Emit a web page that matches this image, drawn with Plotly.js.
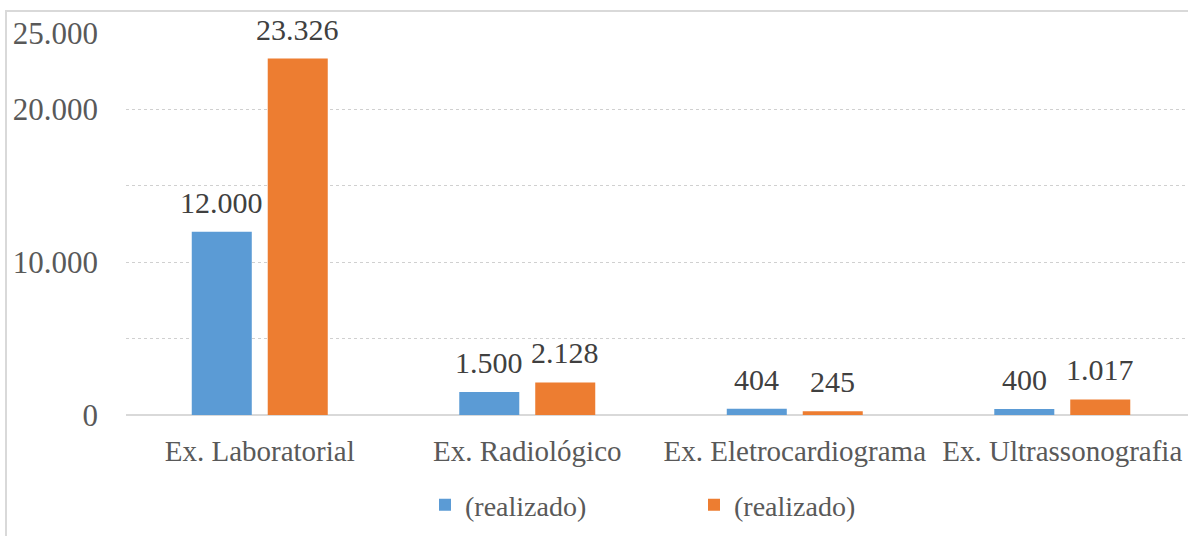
<!DOCTYPE html>
<html>
<head>
<meta charset="utf-8">
<script src="https://cdn.plot.ly/plotly-3.0.1.min.js"></script>
<style>html,body{margin:0;padding:0;background:#fff;}#chart{width:1188px;height:536px;}</style>
</head>
<body>
<div id="chart"></div>
<script>
var categories = ["Ex. Laboratorial", "Ex. Radiológico", "Ex. Eletrocardiograma", "Ex. Ultrassonografia"];
var seriesNames = ["(realizado)", "(realizado)"];
var seriesA = [12000, 1500, 404, 400];
var seriesB = [23326, 2128, 245, 1017];
var yTickVals = [0, 5000, 10000, 15000, 20000, 25000];
var yTickText = ["0", "", "10.000", "", "20.000", "25.000"];

var serif = "Liberation Serif, Times New Roman, serif";
var colors = ["#5B9BD5", "#ED7D31"];

function makeTrace(vals, name, color) {
  return {
    type: "bar",
    x: categories,
    y: vals,
    name: name,
    marker: {color: color},
    hoverinfo: "none"
  };
}

var data = [
  makeTrace(seriesA, seriesNames[0], colors[0]),
  makeTrace(seriesB, seriesNames[1], colors[1])
];

function fmt(v) {
  return String(v).replace(/\B(?=(\d{3})+(?!\d))/g, ".");
}

var annotations = [];
[[seriesA, -38], [seriesB, 38]].forEach(function (pair) {
  pair[0].forEach(function (v, i) {
    annotations.push({
      x: categories[i], y: v, xref: "x", yref: "y",
      text: fmt(v), showarrow: false,
      xanchor: "center", yanchor: "bottom",
      xshift: pair[1], yshift: 11,
      font: {family: serif, size: 30, color: "#404040"}
    });
  });
});

var layout = {
  width: 1188,
  height: 536,
  margin: {l: 126, r: 0, t: 33, b: 121, pad: 0},
  paper_bgcolor: "#ffffff",
  plot_bgcolor: "#ffffff",
  separators: ",.",
  barmode: "group",
  bargap: 0.432,
  bargroupgap: 0.21,
  font: {family: serif, color: "#595959"},
  xaxis: {
    type: "category",
    range: [-0.5, 3.47],
    showgrid: false,
    showline: false,
    zeroline: false,
    ticks: "",
    tickfont: {family: serif, size: 29, color: "#595959"},
    ticklabelstandoff: 16,
    fixedrange: true
  },
  yaxis: {
    range: [0, 25000],
    tickmode: "array",
    tickvals: yTickVals,
    ticktext: yTickText,
    showgrid: true,
    gridcolor: "#d0d0d0",
    griddash: "dot",
    gridwidth: 1,
    zeroline: true,
    zerolinecolor: "#d9d9d9",
    zerolinewidth: 2,
    showline: false,
    ticks: "",
    tickfont: {family: serif, size: 31, color: "#595959"},
    ticklabelstandoff: 27,
    fixedrange: true
  },
  showlegend: true,
  legend: {
    orientation: "h",
    x: (425 - 126) / 1062,
    xanchor: "left",
    y: -0.236,
    yanchor: "middle",
    font: {family: serif, size: 28, color: "#595959"},
    entrywidth: 224,
    entrywidthmode: "pixels",
    bgcolor: "rgba(0,0,0,0)",
    borderwidth: 0
  },
  annotations: annotations,
  shapes: [{
    type: "rect",
    xref: "paper", yref: "paper",
    x0: (6 - 126) / 1062, x1: 1.2,
    y0: -0.6, y1: (415 - 11) / 382,
    line: {color: "#d9d9d9", width: 2},
    fillcolor: "rgba(0,0,0,0)",
    layer: "below"
  }]
};

Plotly.newPlot("chart", data, layout, {displayModeBar: false, staticPlot: true});
</script>
</body>
</html>
